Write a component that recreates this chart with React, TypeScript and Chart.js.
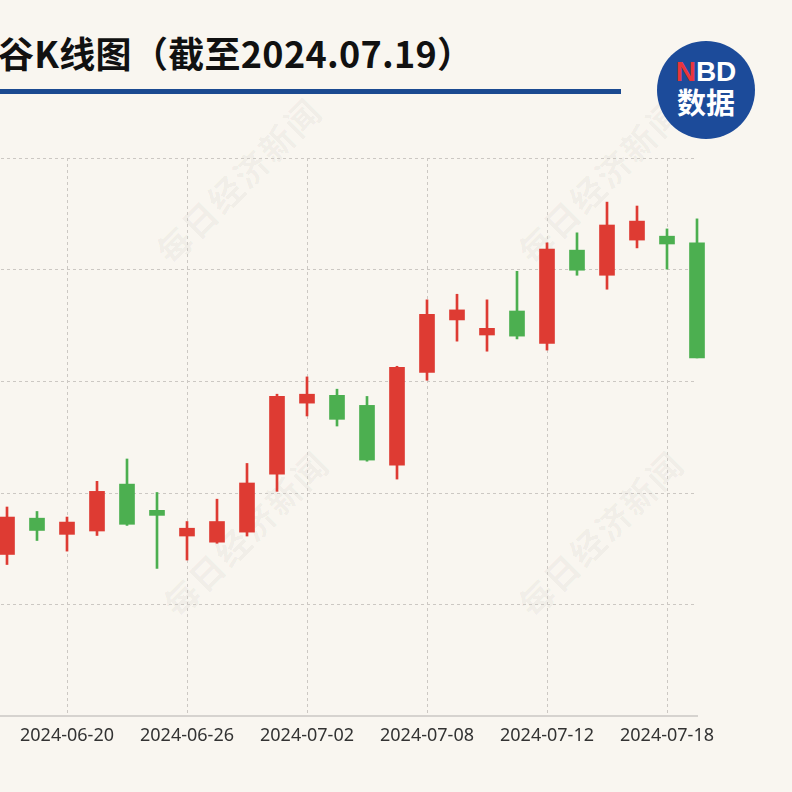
import React, { useEffect, useRef } from 'react';
import { Chart, registerables } from 'chart.js';

Chart.register(...registerables);

const titleText = '谷K线图（截至2024.07.19）';
const watermarkText = '每日经济新闻';

const dates = [
  '2024-06-17', '2024-06-18', '2024-06-19', '2024-06-20', '2024-06-21',
  '2024-06-24', '2024-06-25', '2024-06-26', '2024-06-27', '2024-06-28',
  '2024-07-01', '2024-07-02', '2024-07-03', '2024-07-04', '2024-07-05',
  '2024-07-08', '2024-07-09', '2024-07-10', '2024-07-11', '2024-07-12',
  '2024-07-15', '2024-07-16', '2024-07-17', '2024-07-18', '2024-07-19',
];

const opens = [null, 22.90, 23.55, 23.26, 23.32, 24.16, 23.69, 23.23, 23.12, 23.30, 24.34, 25.61, 25.75, 25.57, 24.50, 26.16, 27.10, 26.83, 27.26, 26.68, 28.35, 27.90, 28.53, 28.60, 28.48];
const highs = [null, 23.75, 23.67, 23.57, 24.21, 24.61, 24.01, 23.49, 23.89, 24.53, 25.77, 26.08, 25.86, 25.73, 26.27, 27.46, 27.56, 27.46, 27.97, 28.48, 28.66, 29.21, 29.14, 28.73, 28.91];
const lows = [null, 22.72, 23.15, 22.96, 23.24, 23.42, 22.65, 22.80, 23.10, 23.23, 24.03, 25.38, 25.20, 24.57, 24.25, 26.02, 26.72, 26.54, 26.76, 26.56, 27.90, 27.65, 28.39, 28.01, 26.42];
const closes = [null, 23.57, 23.33, 23.48, 24.03, 23.44, 23.60, 23.37, 23.49, 24.18, 25.73, 25.77, 25.32, 24.59, 26.25, 27.20, 27.28, 26.95, 26.81, 28.37, 27.99, 28.80, 28.87, 28.46, 26.42];

const xTickLabels = ['2024-06-20', '2024-06-26', '2024-07-02', '2024-07-08', '2024-07-12', '2024-07-18'];

const yMin = 20;
const yMax = 30;
const yStep = 2;

const UP = '#de3b33';
const DOWN = '#4caf50';
const BG = '#f9f6f0';
const GRID = '#ccc8c3';

export default function App() {
  const canvasRef = useRef<HTMLCanvasElement | null>(null);

  useEffect(() => {
    const canvas = canvasRef.current;
    if (!canvas) return;
    const colors = dates.map((_, i) =>
      opens[i] == null ? 'transparent' : (closes[i] as number) >= (opens[i] as number) ? UP : DOWN
    );
    const wickData = dates.map((_, i) => (lows[i] == null ? null : [lows[i], highs[i]]));
    const bodyData = dates.map((_, i) => (opens[i] == null ? null : [opens[i], closes[i]]));

    const chart = new Chart(canvas, {
      type: 'bar',
      data: {
        labels: dates,
        datasets: [
          {
            label: 'wick',
            data: wickData as any,
            backgroundColor: colors,
            barThickness: 2,
            grouped: false,
            order: 2,
            clip: false,
          } as any,
          {
            label: 'body',
            data: bodyData as any,
            backgroundColor: colors,
            barThickness: 15,
            grouped: false,
            order: 1,
            clip: false,
          } as any,
        ],
      },
      options: {
        animation: false,
        responsive: false,
        maintainAspectRatio: false,
        layout: { padding: { left: 17, right: 23, top: 18, bottom: 4 } },
        plugins: {
          legend: { display: false },
          tooltip: { enabled: false },
          title: { display: false },
        },
        scales: {
          x: {
            type: 'category',
            offset: false,
            grid: {
              display: true,
              offset: false,
              drawTicks: false,
              color: (ctx: any) => (xTickLabels.includes(dates[ctx.index]) ? GRID : 'rgba(0,0,0,0)'),
              lineWidth: 1,
            },
            border: { display: true, color: '#d6d3cf', width: 2, dash: [3, 3] },
            ticks: {
              autoSkip: false,
              maxRotation: 0,
              minRotation: 0,
              padding: 9,
              color: '#333333',
              font: { family: '"Noto Sans", "Noto Sans CJK SC", sans-serif', size: 18, lineHeight: 1.2 },
              callback: function (this: any, value: any, index: number) {
                const lab = dates[index];
                return xTickLabels.includes(lab) ? lab : '';
              },
            },
          },
          y: {
            type: 'linear',
            min: yMin,
            max: yMax,
            ticks: { display: false, stepSize: yStep },
            grid: { display: true, drawTicks: false, color: GRID, lineWidth: 1 },
            border: { display: false, dash: [3, 3] },
          },
        },
      },
    } as any);

    return () => chart.destroy();
  }, []);

  const watermarks = [
    { x: 238, y: 180 },
    { x: 600, y: 180 },
    { x: 245, y: 533 },
    { x: 600, y: 533 },
  ];

  return (
    <div
      style={{
        position: 'fixed',
        left: 0,
        top: 0,
        width: 792,
        height: 792,
        overflow: 'hidden',
        background: BG,
        fontFamily: '"Noto Sans CJK SC", "Noto Sans", sans-serif',
      }}
    >
      {watermarks.map((w, i) => (
        <div
          key={i}
          style={{
            position: 'absolute',
            left: w.x,
            top: w.y,
            transform: 'translate(-50%, -50%) rotate(-45deg)',
            whiteSpace: 'nowrap',
            fontSize: 34,
            fontWeight: 700,
            letterSpacing: 2,
            color: 'rgba(0,0,0,0.045)',
            pointerEvents: 'none',
          }}
        >
          {watermarkText}
        </div>
      ))}
      <div
        style={{
          position: 'absolute',
          left: -2,
          top: 27,
          fontSize: 36,
          lineHeight: '50px',
          fontWeight: 700,
          color: '#111111',
          whiteSpace: 'nowrap',
          letterSpacing: 0.3,
        }}
      >
        {titleText}
      </div>
      <div style={{ position: 'absolute', left: 0, top: 89, width: 621, height: 5, background: '#1b4a91' }} />
      <div
        style={{
          position: 'absolute',
          left: 657,
          top: 41,
          width: 98,
          height: 98,
          borderRadius: '50%',
          background: '#1c4b9a',
          color: '#ffffff',
          textAlign: 'center',
        }}
      >
        <div
          style={{
            position: 'absolute',
            left: 0,
            right: 0,
            top: 16,
            fontFamily: '"Liberation Sans", Arial, sans-serif',
            fontWeight: 700,
            fontSize: 28,
            lineHeight: '30px',
          }}
        >
          <span style={{ color: '#e8363b' }}>N</span>BD
        </div>
        <div
          style={{
            position: 'absolute',
            left: 0,
            right: 0,
            top: 43,
            fontWeight: 700,
            fontSize: 29,
            lineHeight: '34px',
          }}
        >
          数据
        </div>
      </div>
      <canvas
        ref={canvasRef}
        width={760}
        height={620}
        style={{ position: 'absolute', left: -40, top: 140, width: 760, height: 620 }}
      />
    </div>
  );
}
